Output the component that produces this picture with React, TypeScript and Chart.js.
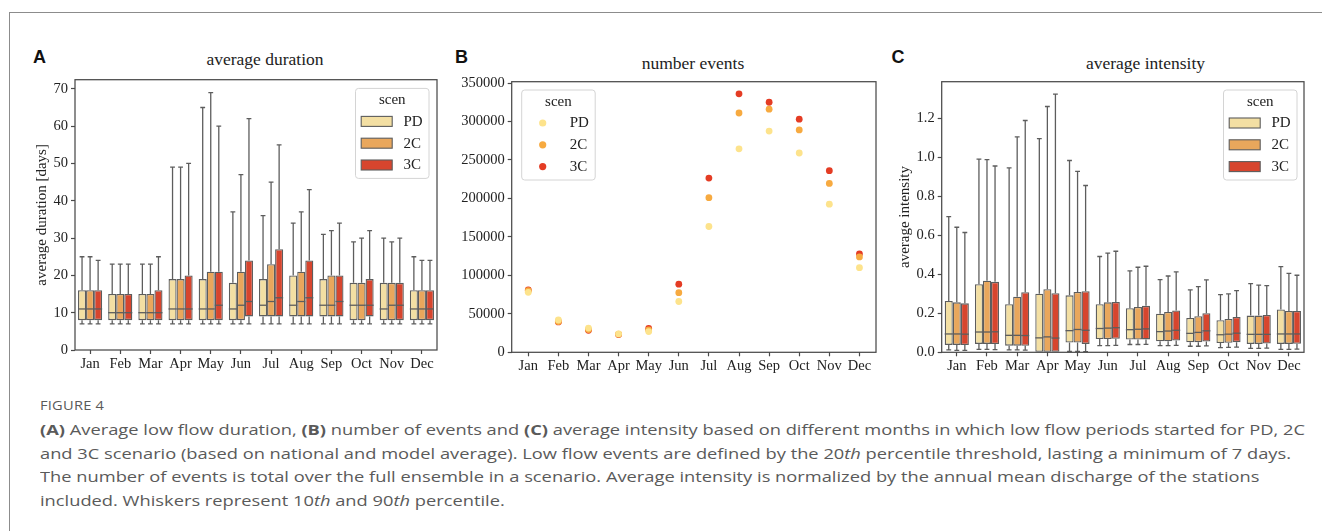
import React, { useEffect, useLayoutEffect, useRef } from "react";
import { Chart, registerables } from "chart.js";

Chart.register(...registerables);

// ---------- categories / labels ----------
const months = ["Jan", "Feb", "Mar", "Apr", "May", "Jun", "Jul", "Aug", "Sep", "Oct", "Nov", "Dec"];
const scenarios = ["PD", "2C", "3C"];

// ---------- Panel A: average duration [days] ----------
const durLowPD = [7, 7, 7, 7, 7, 7, 7, 7, 7, 7, 7, 7];
const durLow2C = [7, 7, 7, 7, 7, 7, 7, 7, 7, 7, 7, 7];
const durLow3C = [7, 7, 7, 7, 7, 7, 7, 7, 7, 7, 7, 7];
const durQ1PD = [8, 8, 8, 8, 8, 8, 9, 9, 9, 8, 8, 8];
const durQ12C = [8, 8, 8, 8, 8, 8, 9, 9, 9, 8, 8, 8];
const durQ13C = [8, 8, 8, 8, 8, 9, 9, 9, 9, 9, 8, 8];
const durMedPD = [11, 10, 10, 11, 11, 11, 12, 12, 12, 12, 11, 11];
const durMed2C = [11, 10, 10, 11, 11, 12, 13, 13, 12, 12, 12, 11];
const durMed3C = [11, 10, 10, 11, 12, 13, 14, 14, 13, 12, 12, 11];
const durQ3PD = [16, 15, 15, 19, 19, 18, 19, 20, 19, 18, 18, 16];
const durQ32C = [16, 15, 15, 19, 21, 21, 23, 21, 20, 18, 18, 16];
const durQ33C = [16, 15, 16, 20, 21, 24, 27, 24, 20, 19, 18, 16];
const durHighPD = [25, 23, 23, 49, 65, 37, 36, 34, 31, 29, 30, 25];
const durHigh2C = [25, 23, 23, 49, 69, 47, 45, 37, 32, 30, 29, 24];
const durHigh3C = [24, 23, 25, 50, 60, 62, 55, 43, 34, 32, 30, 24];
const durTicks = [0, 10, 20, 30, 40, 50, 60, 70];
const durAxisMax = 72.45;

// ---------- Panel B: number of events ----------
const evPD = [78000, 42000, 31500, 24000, 27000, 66000, 163500, 264500, 287500, 259000, 192500, 110000];
const ev2C = [80000, 40000, 29500, 23500, 29000, 77500, 201000, 311000, 316000, 289000, 219500, 124000];
const ev3C = [81000, 39500, 28500, 23000, 31000, 88500, 226500, 336000, 325000, 303000, 236000, 128000];
const evTicks = [0, 50000, 100000, 150000, 200000, 250000, 300000, 350000];
const evAxisMax = 351700;

// ---------- Panel C: average intensity ----------
const intLowPD = [0.012, 0.015, 0.012, 0, 0.004, 0.034, 0.04, 0.034, 0.031, 0.024, 0.02, 0.015];
const intLow2C = [0.01, 0.015, 0.012, 0, 0.004, 0.034, 0.04, 0.034, 0.031, 0.025, 0.02, 0.015];
const intLow3C = [0.01, 0.014, 0.011, 0, 0.003, 0.035, 0.041, 0.035, 0.033, 0.027, 0.021, 0.016];
const intQ1PD = [0.038, 0.043, 0.034, 0, 0.05, 0.068, 0.065, 0.056, 0.051, 0.048, 0.043, 0.043];
const intQ12C = [0.038, 0.043, 0.034, 0, 0.05, 0.068, 0.065, 0.057, 0.052, 0.049, 0.043, 0.043];
const intQ13C = [0.037, 0.042, 0.033, 0, 0.043, 0.069, 0.066, 0.06, 0.055, 0.052, 0.045, 0.044];
const intMedPD = [0.094, 0.104, 0.087, 0.074, 0.111, 0.122, 0.116, 0.106, 0.097, 0.09, 0.092, 0.094];
const intMed2C = [0.094, 0.104, 0.087, 0.079, 0.117, 0.124, 0.118, 0.109, 0.102, 0.093, 0.092, 0.094];
const intMed3C = [0.093, 0.105, 0.086, 0.073, 0.113, 0.126, 0.12, 0.113, 0.11, 0.098, 0.092, 0.094];
const intQ3PD = [0.263, 0.349, 0.246, 0.3, 0.292, 0.246, 0.226, 0.198, 0.176, 0.164, 0.188, 0.22];
const intQ32C = [0.256, 0.367, 0.285, 0.323, 0.309, 0.256, 0.232, 0.207, 0.185, 0.171, 0.188, 0.212];
const intQ33C = [0.251, 0.361, 0.308, 0.303, 0.313, 0.258, 0.238, 0.214, 0.2, 0.181, 0.191, 0.212];
const intHighPD = [0.695, 0.99, 0.945, 1.095, 0.983, 0.491, 0.417, 0.373, 0.32, 0.296, 0.352, 0.439];
const intHigh2C = [0.641, 0.988, 1.104, 1.26, 0.927, 0.508, 0.436, 0.391, 0.337, 0.299, 0.344, 0.405];
const intHigh3C = [0.614, 0.955, 1.188, 1.323, 0.855, 0.518, 0.441, 0.412, 0.371, 0.316, 0.342, 0.395];
const intTicks = [0, 0.2, 0.4, 0.6, 0.8, 1.0, 1.2];
const intAxisMax = 1.387;

// ---------- styles ----------
const boxFills = ["#f3dfa3", "#e9a75c", "#d7452e"];
const dotFills = ["#fde38c", "#f7aa40", "#e43c24"];
const edgeGray = "#5d5d5d";
const axisGray = "#4a4a4a";
const textColor = "#222222";
const serif = "'Liberation Serif', 'Times New Roman', serif";
const sans = "'Liberation Sans', Arial, sans-serif";

Chart.defaults.font.family = serif;

// ---------- plugins ----------
const boxWhiskerPlugin = {
  id: "boxWhisker",
  beforeDatasetsDraw(chart: any) {
    const opts = chart.options.plugins.boxWhisker;
    if (!opts || !opts.enabled) return;
    const y = chart.scales.y;
    const { ctx, chartArea } = chart;
    ctx.save();
    ctx.beginPath();
    ctx.rect(chartArea.left, chartArea.top, chartArea.right - chartArea.left, chartArea.bottom - chartArea.top);
    ctx.clip();
    ctx.strokeStyle = edgeGray;
    ctx.lineWidth = 1.3;
    chart.data.datasets.forEach((ds: any, i: number) => {
      const meta = chart.getDatasetMeta(i);
      meta.data.forEach((bar: any, j: number) => {
        const { x, width } = bar.getProps(["x", "width"], true);
        const cap = (width * 0.6) / 2;
        const q1 = ds.data[j][0];
        const q3 = ds.data[j][1];
        const pq1 = y.getPixelForValue(q1);
        const pq3 = y.getPixelForValue(q3);
        const phi = y.getPixelForValue(ds.whiskerHigh[j]);
        const plo = y.getPixelForValue(ds.whiskerLow[j]);
        ctx.beginPath();
        ctx.moveTo(x, pq3);
        ctx.lineTo(x, phi);
        ctx.moveTo(x - cap, phi);
        ctx.lineTo(x + cap, phi);
        if (ds.whiskerLow[j] < q1) {
          ctx.moveTo(x, pq1);
          ctx.lineTo(x, plo);
          ctx.moveTo(x - cap, plo);
          ctx.lineTo(x + cap, plo);
        }
        ctx.stroke();
      });
    });
    ctx.restore();
  },
  afterDatasetsDraw(chart: any) {
    const opts = chart.options.plugins.boxWhisker;
    if (!opts || !opts.enabled) return;
    const y = chart.scales.y;
    const { ctx } = chart;
    ctx.save();
    ctx.strokeStyle = edgeGray;
    ctx.lineWidth = 1.3;
    chart.data.datasets.forEach((ds: any, i: number) => {
      const meta = chart.getDatasetMeta(i);
      meta.data.forEach((bar: any, j: number) => {
        const { x, width } = bar.getProps(["x", "width"], true);
        const pm = y.getPixelForValue(ds.median[j]);
        ctx.beginPath();
        ctx.moveTo(x - width / 2, pm);
        ctx.lineTo(x + width / 2, pm);
        ctx.stroke();
      });
    });
    ctx.restore();
  },
};

const spinesPlugin = {
  id: "spines",
  afterDatasetsDraw(chart: any) {
    const { ctx, chartArea } = chart;
    ctx.save();
    ctx.strokeStyle = axisGray;
    ctx.lineWidth = 1.25;
    ctx.strokeRect(chartArea.left, chartArea.top, chartArea.right - chartArea.left, chartArea.bottom - chartArea.top);
    ctx.restore();
  },
};

const scenLegendPlugin = {
  id: "scenLegend",
  afterDraw(chart: any, _args: any, opts: any) {
    if (!opts || !opts.kind) return;
    const { ctx, chartArea } = chart;
    const w = 73.5;
    const h = 90;
    const x = opts.side === "right" ? chartArea.right - opts.dx - w : chartArea.left + opts.dx;
    const y = chartArea.top + opts.dy;
    ctx.save();
    const r = 3;
    ctx.beginPath();
    ctx.moveTo(x + r, y);
    ctx.lineTo(x + w - r, y);
    ctx.quadraticCurveTo(x + w, y, x + w, y + r);
    ctx.lineTo(x + w, y + h - r);
    ctx.quadraticCurveTo(x + w, y + h, x + w - r, y + h);
    ctx.lineTo(x + r, y + h);
    ctx.quadraticCurveTo(x, y + h, x, y + h - r);
    ctx.lineTo(x, y + r);
    ctx.quadraticCurveTo(x, y, x + r, y);
    ctx.closePath();
    ctx.fillStyle = "rgba(255,255,255,0.85)";
    ctx.fill();
    ctx.strokeStyle = "#d4d4d4";
    ctx.lineWidth = 1;
    ctx.stroke();

    ctx.font = `15px ${serif}`;
    ctx.fillStyle = textColor;
    ctx.textAlign = "center";
    ctx.textBaseline = "middle";
    ctx.fillText("scen", x + w / 2, y + 12);

    chart.data.datasets.forEach((ds: any, i: number) => {
      const yc = y + 33 + i * 21.8;
      if (opts.kind === "box") {
        ctx.fillStyle = ds.backgroundColor;
        ctx.fillRect(x + 5.7, yc - 5, 31, 10);
        ctx.strokeStyle = edgeGray;
        ctx.lineWidth = 1.1;
        ctx.strokeRect(x + 5.7, yc - 5, 31, 10);
      } else {
        ctx.beginPath();
        ctx.arc(x + 21, yc, 3.6, 0, Math.PI * 2);
        ctx.fillStyle = ds.backgroundColor;
        ctx.fill();
      }
      ctx.fillStyle = textColor;
      ctx.textAlign = "left";
      ctx.fillText(ds.label, x + 48, yc + 0.5);
    });
    ctx.restore();
  },
};

// ---------- config builders ----------
const tickFont = { family: serif, size: 14.5 };
const titleFont = { family: serif, size: 15 };

function gridOpts() {
  return {
    display: true,
    drawOnChartArea: false,
    offset: false,
    tickLength: 4,
    tickColor: axisGray,
    tickWidth: 1.2,
  };
}

function boxConfig(p: any) {
  const q1s = p.q1s, q3s = p.q3s, meds = p.meds, lows = p.lows, highs = p.highs;
  return {
    type: "bar",
    data: {
      labels: months,
      datasets: scenarios.map((s, i) => ({
        label: s,
        data: months.map((_, j) => [q1s[i][j], q3s[i][j]]),
        backgroundColor: boxFills[i],
        borderColor: edgeGray,
        borderWidth: 1.3,
        borderSkipped: false,
        barPercentage: 1,
        categoryPercentage: 0.8,
        whiskerLow: lows[i],
        whiskerHigh: highs[i],
        median: meds[i],
      })),
    },
    options: {
      responsive: false,
      animation: false,
      events: [],
      layout: { padding: p.pad },
      scales: {
        x: {
          type: "category",
          offset: true,
          grid: gridOpts(),
          border: { display: false },
          ticks: { color: textColor, font: tickFont, padding: 1, maxRotation: 0, autoSkip: false },
          afterFit: (s: any) => { s.height = p.xHeight; },
        },
        y: {
          type: "linear",
          min: 0,
          max: p.yMax,
          grid: gridOpts(),
          border: { display: false },
          ticks: { color: textColor, font: tickFont, padding: 3, callback: p.fmt },
          afterBuildTicks: (s: any) => { s.ticks = p.ticks.map((v: number) => ({ value: v })); },
          title: { display: true, text: p.yTitle, color: textColor, font: titleFont, padding: { top: 4, bottom: 4 } },
          afterFit: (s: any) => { s.width = p.yWidth; },
        },
      },
      plugins: {
        legend: { display: false },
        tooltip: { enabled: false },
        boxWhisker: { enabled: true },
        scenLegend: p.legend,
      },
    },
    plugins: [boxWhiskerPlugin, spinesPlugin, scenLegendPlugin],
  };
}

function eventsConfig() {
  const series = [evPD, ev2C, ev3C];
  return {
    type: "scatter",
    data: {
      datasets: scenarios.map((s, i) => ({
        label: s,
        data: months.map((_, j) => ({ x: j, y: series[i][j] })),
        backgroundColor: dotFills[i],
        borderWidth: 0,
        pointRadius: 3.4,
      })),
    },
    options: {
      responsive: false,
      animation: false,
      events: [],
      layout: { padding: { left: 0, top: 13.7, right: 14, bottom: 0 } },
      scales: {
        x: {
          type: "linear",
          min: -0.55,
          max: 11.55,
          grid: gridOpts(),
          border: { display: false },
          ticks: {
            color: textColor,
            font: tickFont,
            padding: 1,
            maxRotation: 0,
            autoSkip: false,
            callback: (v: number) => months[Math.round(v)],
          },
          afterBuildTicks: (s: any) => { s.ticks = months.map((_, i) => ({ value: i })); },
          afterFit: (s: any) => { s.height = 22.7; },
        },
        y: {
          type: "linear",
          min: 0,
          max: evAxisMax,
          grid: gridOpts(),
          border: { display: false },
          ticks: { color: textColor, font: tickFont, padding: 3, callback: (v: number) => String(Math.round(v)) },
          afterBuildTicks: (s: any) => { s.ticks = evTicks.map((v) => ({ value: v })); },
          afterFit: (s: any) => { s.width = 56.7; },
        },
      },
      plugins: {
        legend: { display: false },
        tooltip: { enabled: false },
        scenLegend: { kind: "dot", side: "left", dx: 10, dy: 8.3 },
      },
    },
    plugins: [spinesPlugin, scenLegendPlugin],
  };
}

function ChartCanvas(props: any) {
  const ref = useRef<HTMLCanvasElement | null>(null);
  useEffect(() => {
    const chart = new Chart(ref.current as HTMLCanvasElement, props.make() as any);
    return () => chart.destroy();
  }, []);
  return (
    <canvas
      ref={ref}
      width={props.width}
      height={props.height}
      style={{ position: "absolute", left: props.left, top: props.top, width: props.width, height: props.height }}
    />
  );
}

const makeDuration = () =>
  boxConfig({
    q1s: [durQ1PD, durQ12C, durQ13C],
    q3s: [durQ3PD, durQ32C, durQ33C],
    meds: [durMedPD, durMed2C, durMed3C],
    lows: [durLowPD, durLow2C, durLow3C],
    highs: [durHighPD, durHigh2C, durHigh3C],
    ticks: durTicks,
    yMax: durAxisMax,
    fmt: (v: number) => String(Math.round(v)),
    yTitle: "average duration [days]",
    yWidth: 46,
    xHeight: 25,
    pad: { left: 0, top: 11, right: 12, bottom: 0 },
    legend: { kind: "box", side: "right", dx: 8, dy: 8.7 },
  });

const makeIntensity = () =>
  boxConfig({
    q1s: [intQ1PD, intQ12C, intQ13C],
    q3s: [intQ3PD, intQ32C, intQ33C],
    meds: [intMedPD, intMed2C, intMed3C],
    lows: [intLowPD, intLow2C, intLow3C],
    highs: [intHighPD, intHigh2C, intHigh3C],
    ticks: intTicks,
    yMax: intAxisMax,
    fmt: (v: number) => v.toFixed(1),
    yTitle: "average intensity",
    yWidth: 49.7,
    xHeight: 22.7,
    pad: { left: 0, top: 13.7, right: 14, bottom: 0 },
    legend: { kind: "box", side: "right", dx: 7, dy: 8.3 },
  });

const titleStyle = (cx: number, top: number): React.CSSProperties => ({
  position: "absolute",
  left: cx - 120,
  width: 240,
  top,
  textAlign: "center",
  fontFamily: serif,
  fontSize: 17.5,
  lineHeight: "22px",
  color: textColor,
  whiteSpace: "nowrap",
});

const letterStyle = (left: number): React.CSSProperties => ({
  position: "absolute",
  left,
  top: 46,
  fontFamily: sans,
  fontWeight: 700,
  fontSize: 18,
  lineHeight: "22px",
  color: "#111",
});

export default function App() {
  const capRef = useRef<HTMLDivElement | null>(null);
  const line1Ref = useRef<HTMLSpanElement | null>(null);

  useLayoutEffect(() => {
    if (capRef.current && line1Ref.current) {
      const w = line1Ref.current.getBoundingClientRect().width;
      if (w > 0) capRef.current.style.transform = `scaleX(${1265 / w})`;
    }
  }, []);

  const it = (t: string) => <i>{t}</i>;

  return (
    <div style={{ position: "absolute", left: 0, top: 0, width: 1322, height: 531, overflow: "hidden", background: "#fff" }}>
      <div
        style={{
          position: "absolute",
          left: 9,
          top: 12,
          width: 1400,
          height: 600,
          border: "1px solid #8c8c8c",
          boxSizing: "border-box",
        }}
      />
      <div style={letterStyle(33)}>A</div>
      <div style={letterStyle(455)}>B</div>
      <div style={letterStyle(891.5)}>C</div>
      <div style={titleStyle(265, 48)}>average duration</div>
      <div style={titleStyle(693, 51.5)}>number events</div>
      <div style={titleStyle(1145.5, 51.5)}>average intensity</div>

      <ChartCanvas left={29} top={68} width={420} height={307} make={makeDuration} />
      <ChartCanvas left={455} top={68} width={435} height={307} make={eventsConfig} />
      <ChartCanvas left={892} top={68} width={426} height={307} make={makeIntensity} />

      <div
        ref={capRef}
        style={{
          position: "absolute",
          left: 40,
          top: 396,
          transformOrigin: "0 0",
          fontFamily: "'Open Sans', 'Noto Sans', sans-serif",
          color: "#5a5a5a",
          whiteSpace: "nowrap",
        }}
      >
        <div style={{ fontSize: 12, lineHeight: "20px", letterSpacing: 0.2 }}>FIGURE 4</div>
        <div style={{ fontSize: 15, lineHeight: "23.7px", marginTop: 2 }}>
          <span ref={line1Ref}>
            <b>(A)</b> Average low flow duration, <b>(B)</b> number of events and <b>(C)</b> average intensity based on
            different months in which low flow periods started for PD, 2C
          </span>
          <br />
          and 3C scenario (based on national and model average). Low flow events are defined by the 20{it("th")} percentile
          threshold, lasting a minimum of 7 days.
          <br />
          The number of events is total over the full ensemble in a scenario. Average intensity is normalized by the annual
          mean discharge of the stations
          <br />
          included. Whiskers represent 10{it("th")} and 90{it("th")} percentile.
        </div>
      </div>
    </div>
  );
}
